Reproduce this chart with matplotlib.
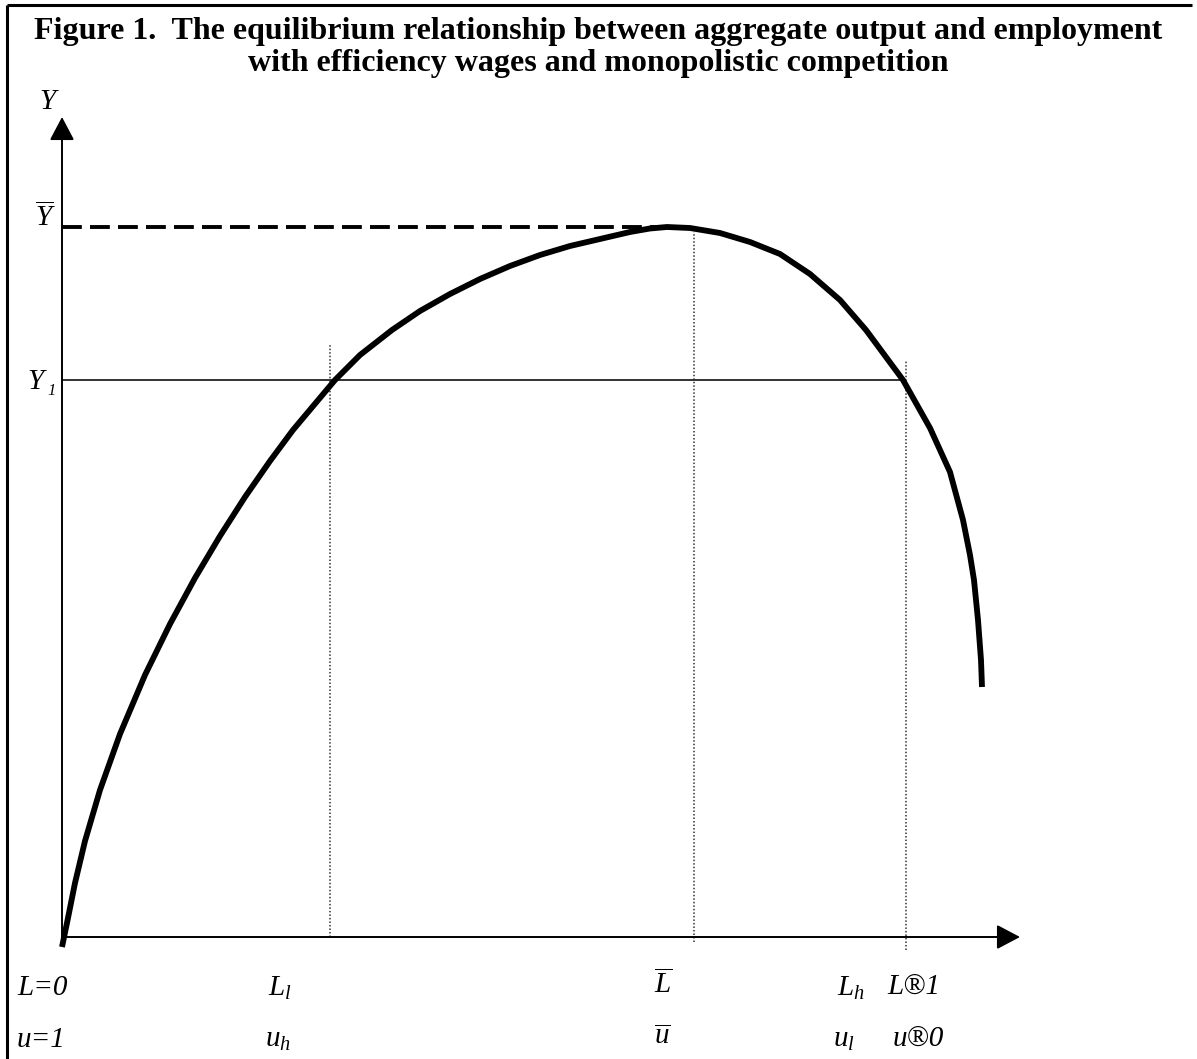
import matplotlib
matplotlib.use("Agg")
import matplotlib.pyplot as plt

plt.rcParams['mathtext.fontset'] = 'custom'
plt.rcParams['mathtext.it'] = 'Liberation Serif:italic'
plt.rcParams['mathtext.rm'] = 'Liberation Serif'
plt.rcParams['mathtext.bf'] = 'Liberation Serif:bold'

# ---- data (units: L along horizontal axis, Y along vertical axis) ----
curve_L = [0, 6, 13, 23, 38, 58, 83, 108, 133, 158, 183, 208, 231, 273, 298, 330,
           358, 388, 418, 448, 478, 508, 538, 568, 588, 605, 628, 658, 688, 718,
           748, 778, 804, 841, 868, 888, 901, 908, 912, 916, 919, 920]
curve_Y = [-10, 19, 54, 96, 147, 203, 262, 313, 359, 401, 440, 476, 507, 557, 582, 607,
           626, 643, 658, 671, 682, 691, 698, 705, 708.5, 710, 709, 704, 695, 683,
           663, 637, 607, 557, 509, 465, 417, 382, 357, 317, 277, 250]

Y_bar = 710          # level of maximum output
Y_1 = 557            # output level Y1
L_l = 268            # low employment intersection
L_bar = 632          # employment at maximum output
L_h = 844            # high employment intersection
x_axis_end = 958
y_axis_end = 820

title_lines = ["Figure 1.  The equilibrium relationship between aggregate output and employment",
               "with efficiency wages and monopolistic competition"]

fig = plt.figure(figsize=(11.97, 10.59), dpi=100)
ax = fig.add_axes([0, 0, 1, 1])
ax.set_xlim(-62, 1197 - 62)
ax.set_ylim(937 - 1059, 937)
ax.axis('off')

# frame
ax.plot([-55, -55], [937 - 1062, 932], color='black', lw=2.2, solid_capstyle='butt')
ax.plot([-55, 1130], [932, 932], color='black', lw=2.2, solid_capstyle='butt')

# axes with arrows
arrow = dict(arrowstyle='-|>,head_length=14.4,head_width=7.6',
             mutation_scale=1, lw=1.4, color='black', shrinkA=0, shrinkB=0)
ax.annotate('', xy=(0, y_axis_end), xytext=(0, 0), arrowprops=arrow)
ax.annotate('', xy=(x_axis_end, 0), xytext=(0, 0), arrowprops=arrow)

# Y-bar dashed line
peak_L = curve_L[curve_Y.index(max(curve_Y))]
ax.plot([0, peak_L], [Y_bar, Y_bar], color='black', lw=2.8,
        linestyle=(0, (5.1, 2.1)), dash_capstyle='butt')
# Y1 line
ax.plot([0, L_h - 3], [Y_1, Y_1], color='#222222', lw=1.3)

# vertical dotted lines
dot = dict(color='#333333', lw=1.1, linestyle=(0, (1, 1.3)))
ax.plot([L_l, L_l], [0, 592], **dot)
ax.plot([L_bar, L_bar], [-5, 705], **dot)
ax.plot([L_h, L_h], [-13, 577], **dot)

# curve
ax.plot(curve_L, curve_Y, color='black', lw=4.2, solid_capstyle='butt', solid_joinstyle='round')

# title
fig.text(0.5, 1 - 31 / 1059, title_lines[0], ha='center', va='center',
         fontsize=23, fontweight='bold', family='Liberation Serif')
fig.text(0.5, 1 - 64 / 1059, title_lines[1], ha='center', va='center',
         fontsize=23, fontweight='bold', family='Liberation Serif')

fs = 21
kw = dict(fontsize=fs, ha='left', va='center', family='Liberation Serif', style='italic')
# axis labels
ax.text(-23, 937 - 102, '$Y$', **kw)
ax.text(-27, 937 - 218, r'$\overline{Y}$', **kw)
ax.text(-35, 937 - 382, 'Y', **kw)
ax.text(-15, 937 - 391, '1', fontsize=12, ha='left', va='center',
        family='Liberation Serif', style='italic')

row1 = 937 - 988
row2 = 937 - 1040
ax.text(-45, row1, 'L=0', **kw)
ax.text(-45, row2, 'u=1', **kw)
ax.text(206, row1, '$L_l$', **kw)
ax.text(203, row2, '$u_h$', **kw)
ax.text(592, row1 + 3, r'$\overline{L}$', **kw)
ax.text(592, row2 + 3, r'$\overline{u}$', **kw)
ax.text(775, row1, '$L_h$', **kw)
ax.text(771, row2, '$u_l$', **kw)
ax.text(825, row1, 'L®1', **kw)
ax.text(831, row2, 'u®0', **kw)

fig.savefig('out.png', dpi=100)
